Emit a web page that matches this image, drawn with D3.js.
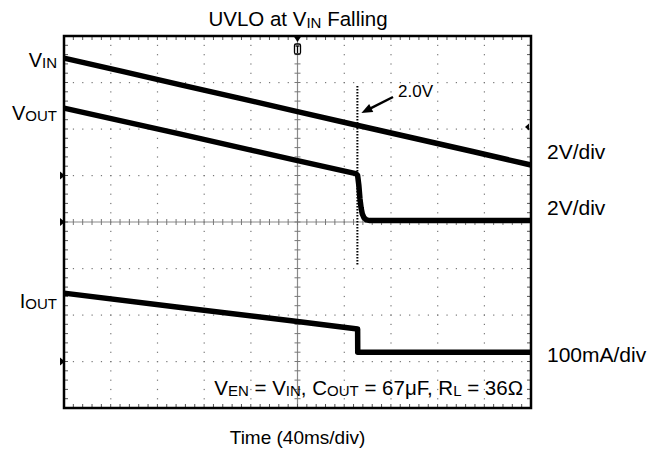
<!DOCTYPE html>
<html><head><meta charset="utf-8">
<script src="https://cdn.jsdelivr.net/npm/d3@7"></script>
<style>
html,body{margin:0;padding:0;background:#fff;}
svg{display:block;font-family:"Liberation Sans",Arial,sans-serif;}
</style></head>
<body><svg id="c" width="662" height="451"></svg>
<script>
// ---- data (time in ms, trigger at 0; 40 ms/div) ----
const timeDomain = [-200, 200];
const vinTime  = [-200, -150, -100, -50, 0, 50, 100, 150, 200];
const vinVolts = [5.05, 4.48, 3.90, 3.33, 2.75, 2.17, 1.60, 1.03, 0.45];
const voutTime  = [-200, -100, 0, 50, 51.5, 52.5, 53.5, 54.5, 55.5, 57, 59, 62, 100, 200];
const voutVolts = [4.90, 3.78, 2.64, 2.08, 2.00, 1.60, 1.00, 0.60, 0.35, 0.18, 0.09, 0.06, 0.06, 0.06];
const ioutTime = [-200, -100, 0, 51.5, 51.6, 100, 200];
const ioutmA   = [147, 116, 86, 70, 20, 20, 20];
const channelNames = ["VIN", "VOUT", "IOUT"];
const channelScales = ["2V/div", "2V/div", "100mA/div"];
const perDiv = [2, 2, 100];      // units per division
const groundDiv = [1, 0, -3];    // ground marker position, divisions from centre
const cursorTime = 51.3;
const cursorLabel = "2.0V";

const svg = d3.select("#c");
const L = 64, R = 531, T = 36, B = 408;
const x = d3.scaleLinear().domain(timeDomain).range([L, R]);
const yDiv = d3.scaleLinear().domain([-4, 4]).range([B, T]);
const chanY = i => v => yDiv(groundDiv[i] + v / perDiv[i]);

// --- dotted grid ---
const g = svg.append("g");
const xDivs = d3.range(-200, 201, 40);
const yDivs = d3.range(-4, 5, 1);
const minorX = d3.range(-200, 200.01, 8);
const minorY = d3.range(-4, 4.001, 0.2);
xDivs.filter(t => t !== 0 && Math.abs(t) !== 200).forEach(t => {
  minorY.forEach(d => g.append("rect").attr("x", x(t) - 0.5).attr("y", yDiv(d) - 0.5)
    .attr("width", 1.2).attr("height", 1.2).attr("fill", "#777"));
});
yDivs.filter(d => d !== 0 && Math.abs(d) !== 4).forEach(d => {
  minorX.forEach(t => g.append("rect").attr("x", x(t) - 0.5).attr("y", yDiv(d) - 0.5)
    .attr("width", 1.2).attr("height", 1.2).attr("fill", "#777"));
});
// centre cross-hair
g.append("line").attr("x1", L).attr("x2", R).attr("y1", yDiv(0)).attr("y2", yDiv(0))
  .attr("stroke", "#8a8a8a").attr("stroke-width", 1.2);
g.append("line").attr("x1", x(0)).attr("x2", x(0)).attr("y1", T).attr("y2", B)
  .attr("stroke", "#8a8a8a").attr("stroke-width", 1.2);
minorX.forEach(t => g.append("line").attr("x1", x(t)).attr("x2", x(t))
  .attr("y1", yDiv(0) - 3).attr("y2", yDiv(0) + 3).attr("stroke", "#777").attr("stroke-width", 1));
minorY.forEach(d => g.append("line").attr("y1", yDiv(d)).attr("y2", yDiv(d))
  .attr("x1", x(0) - 3).attr("x2", x(0) + 3).attr("stroke", "#777").attr("stroke-width", 1));
// border ticks
minorX.forEach(t => {
  g.append("line").attr("x1", x(t)).attr("x2", x(t)).attr("y1", T).attr("y2", T + 4).attr("stroke", "#555");
  g.append("line").attr("x1", x(t)).attr("x2", x(t)).attr("y1", B - 4).attr("y2", B).attr("stroke", "#555");
});
minorY.forEach(d => {
  g.append("line").attr("y1", yDiv(d)).attr("y2", yDiv(d)).attr("x1", L).attr("x2", L + 4).attr("stroke", "#555");
  g.append("line").attr("y1", yDiv(d)).attr("y2", yDiv(d)).attr("x1", R - 4).attr("x2", R).attr("stroke", "#555");
});

// --- cursor line ---
svg.append("line").attr("x1", x(cursorTime)).attr("x2", x(cursorTime))
  .attr("y1", 86).attr("y2", 265).attr("stroke", "#000").attr("stroke-width", 2)
  .attr("stroke-dasharray", "1.5,1.5");

// --- traces ---
const traces = [
  {t: vinTime, v: vinVolts, i: 0},
  {t: voutTime, v: voutVolts, i: 1},
  {t: ioutTime, v: ioutmA, i: 2}
];
traces.forEach(tr => {
  const yy = chanY(tr.i);
  const pts = tr.t.map((t, k) => [t, tr.v[k]]);
  const line = d3.line().x(d => x(d[0])).y(d => yy(d[1]));
  svg.append("path").attr("d", line(pts)).attr("fill", "none")
    .attr("stroke", "#000").attr("stroke-width", 5.5).attr("stroke-linejoin", "round");
});

// --- frame ---
svg.append("rect").attr("x", L).attr("y", T).attr("width", R - L).attr("height", B - T)
  .attr("fill", "none").attr("stroke", "#000").attr("stroke-width", 2.5);

// channel ground markers
groundDiv.forEach(d => {
  const yy = yDiv(d);
  svg.append("path").attr("d", `M${L - 4},${yy - 4}L${L + 1},${yy}L${L - 4},${yy + 4}Z`).attr("fill", "#000");
});
// trigger marker top
svg.append("path").attr("d", `M${x(0) - 4},${T}L${x(0) + 4},${T}L${x(0)},${T + 6}Z`).attr("fill", "#000");
svg.append("rect").attr("x", x(0) - 3).attr("y", T + 8).attr("width", 6).attr("height", 10)
  .attr("rx", 1.5).attr("fill", "#fff").attr("stroke", "#000").attr("stroke-width", 1.3);
svg.append("line").attr("x1", x(0) - 2).attr("x2", x(0) + 2).attr("y1", T + 10).attr("y2", T + 10).attr("stroke", "#000").attr("stroke-width", 1.3);
svg.append("line").attr("x1", x(0)).attr("x2", x(0)).attr("y1", T + 10).attr("y2", T + 17).attr("stroke", "#000").attr("stroke-width", 1.3);
// trigger level marker right
const trigY = 127;
svg.append("path").attr("d", `M${R - 6},${trigY}L${R - 2},${trigY - 3.5}L${R - 2},${trigY + 3.5}Z`).attr("fill", "#000");

// --- arrow annotation ---
const ax1 = 393, ay1 = 97, ax2 = x(cursorTime) + 4, ay2 = 113;
const ang = Math.atan2(ay2 - ay1, ax2 - ax1);
svg.append("line").attr("x1", ax1).attr("y1", ay1)
  .attr("x2", ax2 - 8 * Math.cos(ang)).attr("y2", ay2 - 8 * Math.sin(ang))
  .attr("stroke", "#000").attr("stroke-width", 2.5);
const hl = 11, hw = 4.5;
const bx = ax2 - hl * Math.cos(ang), by = ay2 - hl * Math.sin(ang);
svg.append("path").attr("d",
  `M${ax2},${ay2}L${bx + hw * Math.sin(ang)},${by - hw * Math.cos(ang)}L${bx - hw * Math.sin(ang)},${by + hw * Math.cos(ang)}Z`)
  .attr("fill", "#000");
svg.append("text").attr("x", 398).attr("y", 97).attr("font-size", 17).text(cursorLabel);

// --- texts ---
const title = svg.append("text").attr("x", 298).attr("y", 26).attr("text-anchor", "middle").attr("font-size", 20.5);
title.append("tspan").text("UVLO at V");
title.append("tspan").attr("font-size", 15).attr("dy", 1.5).text("IN");
title.append("tspan").attr("dy", -1.5).text(" Falling");

const leftLabels = [["V", "IN", 67], ["V", "OUT", 120], ["I", "OUT", 308]];
leftLabels.forEach(l => {
  const t = svg.append("text").attr("x", 57).attr("y", l[2]).attr("text-anchor", "end").attr("font-size", 20);
  t.append("tspan").text(l[0]);
  t.append("tspan").attr("font-size", 15).attr("dy", 1).text(l[1]);
});
const rightY = [159, 215, 362];
channelScales.forEach((s, i) => {
  svg.append("text").attr("x", 547).attr("y", rightY[i]).attr("font-size", 21).text(s);
});

const ann = svg.append("text").attr("x", 523).attr("y", 395).attr("text-anchor", "end").attr("font-size", 20.5);
[["V", "EN", " = V"], [null, "IN", ", C"], [null, "OUT", " = 67μF, R"], [null, "L", " = 36Ω"]].forEach((p, k) => {
  if (p[0]) ann.append("tspan").text(p[0]);
  ann.append("tspan").attr("font-size", 15).attr("dy", 1).text(p[1]);
  ann.append("tspan").attr("dy", -1).text(p[2]);
});

svg.append("text").attr("x", 297.5).attr("y", 444).attr("text-anchor", "middle").attr("font-size", 19).text("Time (40ms/div)");
</script></body></html>
